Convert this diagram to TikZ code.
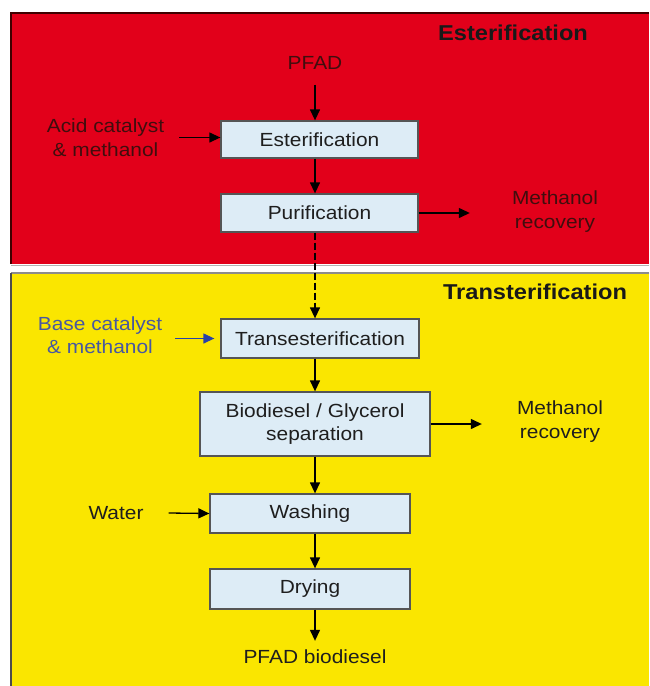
\documentclass[tikz,border=0pt]{standalone}
\usepackage{fontspec}
\setmainfont{Liberation Sans}[FakeStretch=1.1]
\usetikzlibrary{arrows.meta}
\definecolor{panelred}{RGB}{226,0,26}
\definecolor{panelyellow}{RGB}{250,230,0}
\definecolor{boxfill}{RGB}{221,236,246}
\definecolor{boxline}{RGB}{85,85,85}
\definecolor{redtext}{RGB}{64,14,14}
\definecolor{bluetext}{RGB}{72,88,160}
\definecolor{bluearrow}{RGB}{40,66,168}
\definecolor{darktext}{RGB}{30,30,30}
\tikzset{
  procbox/.style={draw=boxline, line width=1.3pt, fill=boxfill, inner sep=0pt,
    font=\fontsize{19}{23.5}\selectfont, text=darktext, align=center},
  sidelabel/.style={inner sep=0pt, font=\fontsize{19}{23.5}\selectfont, align=center},
  paneltitle/.style={inner sep=0pt, font=\fontsize{21.5}{25}\selectfont\bfseries, text=black!90},
  arr/.style={line width=1.3pt, -{Triangle[width=10pt,length=11pt]}},
}
\begin{document}
\begin{tikzpicture}[x=1pt, y=-1pt]
\useasboundingbox (0,0) rectangle (649,686);
\fill[white] (0,0) rectangle (649,686);
% panels
\fill[panelred] (11,13) rectangle (649,264);
\draw[black!75!red, line width=1.8pt] (649,13) -- (11,13) -- (11,264);
\draw[black!30, line width=1pt] (11,265) -- (649,265);
\fill[panelyellow] (11,273) rectangle (649,686);
\draw[black!45, line width=1.3pt] (649,273) -- (11,273);
\draw[black!70, line width=1.6pt] (11,273) -- (11,686);
\coordinate (ax) at (315,0);
% titles
\node[paneltitle] (t1) at (513,33) {Esterification};
\node[paneltitle] (t2) at (535,292) {Transterification};
% boxes
\node[procbox, minimum width=197pt, minimum height=37pt] (est) at (319.5,139.5) {Esterification};
\node[procbox, minimum width=197pt, minimum height=38pt] (pur) at (319.5,213) {Purification};
\node[procbox, minimum width=198pt, minimum height=39pt] (trans) at (320,338.5) {Transesterification};
\node[procbox, minimum width=230pt, minimum height=64pt] (sep) at (315,424) {Biodiesel / Glycerol\\separation};
\node[procbox, minimum width=200pt, minimum height=39pt] (wash) at (310,513.5) {Washing};
\node[procbox, minimum width=200pt, minimum height=40pt] (dry) at (310,589) {Drying};
% labels
\node[sidelabel, text=redtext] (pfad) at (315,63) {PFAD};
\node[sidelabel, text=redtext] (acid) at (105.5,137.5) {Acid catalyst\\\&\ methanol};
\node[sidelabel, text=redtext] (mr1) at (555,211.5) {Methanol\\recovery};
\node[sidelabel, text=bluetext] (base) at (100,335) {Base catalyst\\\&\ methanol};
\node[sidelabel, text=darktext] (mr2) at (560,421.5) {Methanol\\recovery};
\node[sidelabel, text=darktext] (water) at (116,513) {Water};
\node[sidelabel, text=darktext] (pfadb) at (315,657) {PFAD biodiesel};
% connectors
\draw[arr] ([yshift=-15pt]pfad.south) -- (est.north -| ax);
\draw[arr] (est.south -| ax) -- (pur.north -| ax);
\draw[arr, dash pattern=on 7pt off 3pt] (pur.south -| ax) -- (trans.north -| ax);
\draw[arr] (trans.south -| ax) -- (sep.north -| ax);
\draw[arr] (sep.south -| ax) -- (wash.north -| ax);
\draw[arr] (wash.south -| ax) -- (dry.north -| ax);
\draw[arr, shorten >=9pt] (dry.south -| ax) -- (pfadb.north);
\draw[arr] ([xshift=15pt]acid.east) -- (est.west |- acid.east);
\draw[arr] (pur.east) -- ([xshift=-42pt]mr1.west |- pur.east);
\draw[arr, draw=bluearrow, fill=bluearrow, shorten >=6pt] ([xshift=13pt]base.east |- trans.west) -- (trans.west);
\draw[arr] (sep.east) -- ([xshift=-35pt]mr2.west |- sep.east);
\draw[arr] ([xshift=25pt]water.east) -- (wash.west);
\end{tikzpicture}
\end{document}
